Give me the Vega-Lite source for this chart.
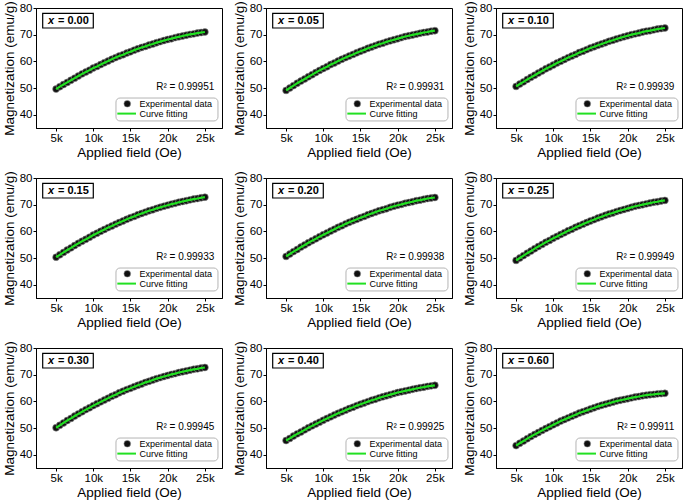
{
"$schema": "https://vega.github.io/schema/vega-lite/v6.json",
"background": "white",
"padding": {"left": 1, "top": 0, "right": 0, "bottom": 0},
"data": {"values": [
{"p":"0.00","H":5000,"M":49.6},{"p":"0.00","H":5500,"M":50.5},{"p":"0.00","H":6000,"M":51.3},{"p":"0.00","H":6500,"M":52.1},{"p":"0.00","H":7000,"M":52.9},{"p":"0.00","H":7500,"M":53.7},{"p":"0.00","H":8000,"M":54.5},{"p":"0.00","H":8500,"M":55.3},{"p":"0.00","H":9000,"M":56.0},{"p":"0.00","H":9500,"M":56.7},{"p":"0.00","H":10000,"M":57.5},{"p":"0.00","H":10500,"M":58.1},{"p":"0.00","H":11000,"M":58.8},{"p":"0.00","H":11500,"M":59.5},{"p":"0.00","H":12000,"M":60.1},{"p":"0.00","H":12500,"M":60.8},{"p":"0.00","H":13000,"M":61.4},{"p":"0.00","H":13500,"M":62.0},{"p":"0.00","H":14000,"M":62.5},{"p":"0.00","H":14500,"M":63.1},{"p":"0.00","H":15000,"M":63.6},{"p":"0.00","H":15500,"M":64.2},{"p":"0.00","H":16000,"M":64.7},{"p":"0.00","H":16500,"M":65.2},{"p":"0.00","H":17000,"M":65.6},{"p":"0.00","H":17500,"M":66.1},{"p":"0.00","H":18000,"M":66.5},{"p":"0.00","H":18500,"M":67.0},{"p":"0.00","H":19000,"M":67.4},{"p":"0.00","H":19500,"M":67.8},{"p":"0.00","H":20000,"M":68.2},{"p":"0.00","H":20500,"M":68.5},{"p":"0.00","H":21000,"M":68.9},{"p":"0.00","H":21500,"M":69.2},{"p":"0.00","H":22000,"M":69.5},{"p":"0.00","H":22500,"M":69.8},{"p":"0.00","H":23000,"M":70.1},{"p":"0.00","H":23500,"M":70.3},{"p":"0.00","H":24000,"M":70.6},{"p":"0.00","H":24500,"M":70.8},{"p":"0.00","H":25000,"M":71.0},
{"p":"0.05","H":5000,"M":49.1},{"p":"0.05","H":5500,"M":50.0},{"p":"0.05","H":6000,"M":50.9},{"p":"0.05","H":6500,"M":51.8},{"p":"0.05","H":7000,"M":52.6},{"p":"0.05","H":7500,"M":53.4},{"p":"0.05","H":8000,"M":54.2},{"p":"0.05","H":8500,"M":55.0},{"p":"0.05","H":9000,"M":55.8},{"p":"0.05","H":9500,"M":56.6},{"p":"0.05","H":10000,"M":57.3},{"p":"0.05","H":10500,"M":58.0},{"p":"0.05","H":11000,"M":58.8},{"p":"0.05","H":11500,"M":59.4},{"p":"0.05","H":12000,"M":60.1},{"p":"0.05","H":12500,"M":60.8},{"p":"0.05","H":13000,"M":61.4},{"p":"0.05","H":13500,"M":62.0},{"p":"0.05","H":14000,"M":62.6},{"p":"0.05","H":14500,"M":63.2},{"p":"0.05","H":15000,"M":63.8},{"p":"0.05","H":15500,"M":64.3},{"p":"0.05","H":16000,"M":64.9},{"p":"0.05","H":16500,"M":65.4},{"p":"0.05","H":17000,"M":65.9},{"p":"0.05","H":17500,"M":66.4},{"p":"0.05","H":18000,"M":66.8},{"p":"0.05","H":18500,"M":67.3},{"p":"0.05","H":19000,"M":67.7},{"p":"0.05","H":19500,"M":68.1},{"p":"0.05","H":20000,"M":68.5},{"p":"0.05","H":20500,"M":68.9},{"p":"0.05","H":21000,"M":69.3},{"p":"0.05","H":21500,"M":69.6},{"p":"0.05","H":22000,"M":69.9},{"p":"0.05","H":22500,"M":70.2},{"p":"0.05","H":23000,"M":70.5},{"p":"0.05","H":23500,"M":70.8},{"p":"0.05","H":24000,"M":71.0},{"p":"0.05","H":24500,"M":71.3},{"p":"0.05","H":25000,"M":71.5},
{"p":"0.10","H":5000,"M":50.6},{"p":"0.10","H":5500,"M":51.5},{"p":"0.10","H":6000,"M":52.3},{"p":"0.10","H":6500,"M":53.2},{"p":"0.10","H":7000,"M":54.0},{"p":"0.10","H":7500,"M":54.8},{"p":"0.10","H":8000,"M":55.6},{"p":"0.10","H":8500,"M":56.4},{"p":"0.10","H":9000,"M":57.2},{"p":"0.10","H":9500,"M":57.9},{"p":"0.10","H":10000,"M":58.6},{"p":"0.10","H":10500,"M":59.4},{"p":"0.10","H":11000,"M":60.0},{"p":"0.10","H":11500,"M":60.7},{"p":"0.10","H":12000,"M":61.4},{"p":"0.10","H":12500,"M":62.0},{"p":"0.10","H":13000,"M":62.6},{"p":"0.10","H":13500,"M":63.3},{"p":"0.10","H":14000,"M":63.8},{"p":"0.10","H":14500,"M":64.4},{"p":"0.10","H":15000,"M":65.0},{"p":"0.10","H":15500,"M":65.5},{"p":"0.10","H":16000,"M":66.0},{"p":"0.10","H":16500,"M":66.5},{"p":"0.10","H":17000,"M":67.0},{"p":"0.10","H":17500,"M":67.5},{"p":"0.10","H":18000,"M":67.9},{"p":"0.10","H":18500,"M":68.4},{"p":"0.10","H":19000,"M":68.8},{"p":"0.10","H":19500,"M":69.2},{"p":"0.10","H":20000,"M":69.6},{"p":"0.10","H":20500,"M":70.0},{"p":"0.10","H":21000,"M":70.3},{"p":"0.10","H":21500,"M":70.6},{"p":"0.10","H":22000,"M":71.0},{"p":"0.10","H":22500,"M":71.3},{"p":"0.10","H":23000,"M":71.5},{"p":"0.10","H":23500,"M":71.8},{"p":"0.10","H":24000,"M":72.1},{"p":"0.10","H":24500,"M":72.3},{"p":"0.10","H":25000,"M":72.5},
{"p":"0.15","H":5000,"M":50.3},{"p":"0.15","H":5500,"M":51.2},{"p":"0.15","H":6000,"M":52.1},{"p":"0.15","H":6500,"M":53.0},{"p":"0.15","H":7000,"M":53.8},{"p":"0.15","H":7500,"M":54.7},{"p":"0.15","H":8000,"M":55.5},{"p":"0.15","H":8500,"M":56.3},{"p":"0.15","H":9000,"M":57.0},{"p":"0.15","H":9500,"M":57.8},{"p":"0.15","H":10000,"M":58.6},{"p":"0.15","H":10500,"M":59.3},{"p":"0.15","H":11000,"M":60.0},{"p":"0.15","H":11500,"M":60.7},{"p":"0.15","H":12000,"M":61.4},{"p":"0.15","H":12500,"M":62.0},{"p":"0.15","H":13000,"M":62.7},{"p":"0.15","H":13500,"M":63.3},{"p":"0.15","H":14000,"M":63.9},{"p":"0.15","H":14500,"M":64.5},{"p":"0.15","H":15000,"M":65.1},{"p":"0.15","H":15500,"M":65.6},{"p":"0.15","H":16000,"M":66.2},{"p":"0.15","H":16500,"M":66.7},{"p":"0.15","H":17000,"M":67.2},{"p":"0.15","H":17500,"M":67.7},{"p":"0.15","H":18000,"M":68.1},{"p":"0.15","H":18500,"M":68.6},{"p":"0.15","H":19000,"M":69.0},{"p":"0.15","H":19500,"M":69.4},{"p":"0.15","H":20000,"M":69.8},{"p":"0.15","H":20500,"M":70.2},{"p":"0.15","H":21000,"M":70.5},{"p":"0.15","H":21500,"M":70.9},{"p":"0.15","H":22000,"M":71.2},{"p":"0.15","H":22500,"M":71.5},{"p":"0.15","H":23000,"M":71.8},{"p":"0.15","H":23500,"M":72.1},{"p":"0.15","H":24000,"M":72.3},{"p":"0.15","H":24500,"M":72.6},{"p":"0.15","H":25000,"M":72.8},
{"p":"0.20","H":5000,"M":50.6},{"p":"0.20","H":5500,"M":51.5},{"p":"0.20","H":6000,"M":52.4},{"p":"0.20","H":6500,"M":53.2},{"p":"0.20","H":7000,"M":54.1},{"p":"0.20","H":7500,"M":54.9},{"p":"0.20","H":8000,"M":55.7},{"p":"0.20","H":8500,"M":56.5},{"p":"0.20","H":9000,"M":57.2},{"p":"0.20","H":9500,"M":58.0},{"p":"0.20","H":10000,"M":58.7},{"p":"0.20","H":10500,"M":59.4},{"p":"0.20","H":11000,"M":60.1},{"p":"0.20","H":11500,"M":60.8},{"p":"0.20","H":12000,"M":61.5},{"p":"0.20","H":12500,"M":62.1},{"p":"0.20","H":13000,"M":62.8},{"p":"0.20","H":13500,"M":63.4},{"p":"0.20","H":14000,"M":64.0},{"p":"0.20","H":14500,"M":64.5},{"p":"0.20","H":15000,"M":65.1},{"p":"0.20","H":15500,"M":65.6},{"p":"0.20","H":16000,"M":66.2},{"p":"0.20","H":16500,"M":66.7},{"p":"0.20","H":17000,"M":67.2},{"p":"0.20","H":17500,"M":67.7},{"p":"0.20","H":18000,"M":68.1},{"p":"0.20","H":18500,"M":68.5},{"p":"0.20","H":19000,"M":69.0},{"p":"0.20","H":19500,"M":69.4},{"p":"0.20","H":20000,"M":69.8},{"p":"0.20","H":20500,"M":70.1},{"p":"0.20","H":21000,"M":70.5},{"p":"0.20","H":21500,"M":70.8},{"p":"0.20","H":22000,"M":71.1},{"p":"0.20","H":22500,"M":71.5},{"p":"0.20","H":23000,"M":71.7},{"p":"0.20","H":23500,"M":72.0},{"p":"0.20","H":24000,"M":72.3},{"p":"0.20","H":24500,"M":72.5},{"p":"0.20","H":25000,"M":72.7},
{"p":"0.25","H":5000,"M":49.1},{"p":"0.25","H":5500,"M":50.0},{"p":"0.25","H":6000,"M":50.9},{"p":"0.25","H":6500,"M":51.8},{"p":"0.25","H":7000,"M":52.6},{"p":"0.25","H":7500,"M":53.5},{"p":"0.25","H":8000,"M":54.3},{"p":"0.25","H":8500,"M":55.1},{"p":"0.25","H":9000,"M":55.9},{"p":"0.25","H":9500,"M":56.6},{"p":"0.25","H":10000,"M":57.4},{"p":"0.25","H":10500,"M":58.1},{"p":"0.25","H":11000,"M":58.8},{"p":"0.25","H":11500,"M":59.5},{"p":"0.25","H":12000,"M":60.2},{"p":"0.25","H":12500,"M":60.8},{"p":"0.25","H":13000,"M":61.5},{"p":"0.25","H":13500,"M":62.1},{"p":"0.25","H":14000,"M":62.7},{"p":"0.25","H":14500,"M":63.3},{"p":"0.25","H":15000,"M":63.9},{"p":"0.25","H":15500,"M":64.4},{"p":"0.25","H":16000,"M":65.0},{"p":"0.25","H":16500,"M":65.5},{"p":"0.25","H":17000,"M":66.0},{"p":"0.25","H":17500,"M":66.5},{"p":"0.25","H":18000,"M":66.9},{"p":"0.25","H":18500,"M":67.4},{"p":"0.25","H":19000,"M":67.8},{"p":"0.25","H":19500,"M":68.2},{"p":"0.25","H":20000,"M":68.6},{"p":"0.25","H":20500,"M":69.0},{"p":"0.25","H":21000,"M":69.4},{"p":"0.25","H":21500,"M":69.7},{"p":"0.25","H":22000,"M":70.0},{"p":"0.25","H":22500,"M":70.3},{"p":"0.25","H":23000,"M":70.6},{"p":"0.25","H":23500,"M":70.9},{"p":"0.25","H":24000,"M":71.1},{"p":"0.25","H":24500,"M":71.4},{"p":"0.25","H":25000,"M":71.6},
{"p":"0.30","H":5000,"M":50.1},{"p":"0.30","H":5500,"M":51.0},{"p":"0.30","H":6000,"M":51.9},{"p":"0.30","H":6500,"M":52.8},{"p":"0.30","H":7000,"M":53.6},{"p":"0.30","H":7500,"M":54.5},{"p":"0.30","H":8000,"M":55.3},{"p":"0.30","H":8500,"M":56.1},{"p":"0.30","H":9000,"M":56.9},{"p":"0.30","H":9500,"M":57.6},{"p":"0.30","H":10000,"M":58.4},{"p":"0.30","H":10500,"M":59.1},{"p":"0.30","H":11000,"M":59.8},{"p":"0.30","H":11500,"M":60.5},{"p":"0.30","H":12000,"M":61.2},{"p":"0.30","H":12500,"M":61.9},{"p":"0.30","H":13000,"M":62.5},{"p":"0.30","H":13500,"M":63.2},{"p":"0.30","H":14000,"M":63.8},{"p":"0.30","H":14500,"M":64.4},{"p":"0.30","H":15000,"M":64.9},{"p":"0.30","H":15500,"M":65.5},{"p":"0.30","H":16000,"M":66.0},{"p":"0.30","H":16500,"M":66.5},{"p":"0.30","H":17000,"M":67.1},{"p":"0.30","H":17500,"M":67.5},{"p":"0.30","H":18000,"M":68.0},{"p":"0.30","H":18500,"M":68.5},{"p":"0.30","H":19000,"M":68.9},{"p":"0.30","H":19500,"M":69.3},{"p":"0.30","H":20000,"M":69.7},{"p":"0.30","H":20500,"M":70.1},{"p":"0.30","H":21000,"M":70.4},{"p":"0.30","H":21500,"M":70.8},{"p":"0.30","H":22000,"M":71.1},{"p":"0.30","H":22500,"M":71.4},{"p":"0.30","H":23000,"M":71.7},{"p":"0.30","H":23500,"M":72.0},{"p":"0.30","H":24000,"M":72.2},{"p":"0.30","H":24500,"M":72.5},{"p":"0.30","H":25000,"M":72.7},
{"p":"0.40","H":5000,"M":45.3},{"p":"0.40","H":5500,"M":46.1},{"p":"0.40","H":6000,"M":47.0},{"p":"0.40","H":6500,"M":47.8},{"p":"0.40","H":7000,"M":48.5},{"p":"0.40","H":7500,"M":49.3},{"p":"0.40","H":8000,"M":50.1},{"p":"0.40","H":8500,"M":50.8},{"p":"0.40","H":9000,"M":51.5},{"p":"0.40","H":9500,"M":52.2},{"p":"0.40","H":10000,"M":52.9},{"p":"0.40","H":10500,"M":53.6},{"p":"0.40","H":11000,"M":54.2},{"p":"0.40","H":11500,"M":54.9},{"p":"0.40","H":12000,"M":55.5},{"p":"0.40","H":12500,"M":56.1},{"p":"0.40","H":13000,"M":56.7},{"p":"0.40","H":13500,"M":57.3},{"p":"0.40","H":14000,"M":57.8},{"p":"0.40","H":14500,"M":58.4},{"p":"0.40","H":15000,"M":58.9},{"p":"0.40","H":15500,"M":59.4},{"p":"0.40","H":16000,"M":59.9},{"p":"0.40","H":16500,"M":60.4},{"p":"0.40","H":17000,"M":60.8},{"p":"0.40","H":17500,"M":61.3},{"p":"0.40","H":18000,"M":61.7},{"p":"0.40","H":18500,"M":62.1},{"p":"0.40","H":19000,"M":62.5},{"p":"0.40","H":19500,"M":62.9},{"p":"0.40","H":20000,"M":63.3},{"p":"0.40","H":20500,"M":63.6},{"p":"0.40","H":21000,"M":63.9},{"p":"0.40","H":21500,"M":64.2},{"p":"0.40","H":22000,"M":64.5},{"p":"0.40","H":22500,"M":64.8},{"p":"0.40","H":23000,"M":65.1},{"p":"0.40","H":23500,"M":65.3},{"p":"0.40","H":24000,"M":65.6},{"p":"0.40","H":24500,"M":65.8},{"p":"0.40","H":25000,"M":66.0},
{"p":"0.60","H":5000,"M":43.4},{"p":"0.60","H":5500,"M":44.3},{"p":"0.60","H":6000,"M":45.1},{"p":"0.60","H":6500,"M":46.0},{"p":"0.60","H":7000,"M":46.8},{"p":"0.60","H":7500,"M":47.6},{"p":"0.60","H":8000,"M":48.3},{"p":"0.60","H":8500,"M":49.1},{"p":"0.60","H":9000,"M":49.8},{"p":"0.60","H":9500,"M":50.5},{"p":"0.60","H":10000,"M":51.2},{"p":"0.60","H":10500,"M":51.9},{"p":"0.60","H":11000,"M":52.6},{"p":"0.60","H":11500,"M":53.2},{"p":"0.60","H":12000,"M":53.8},{"p":"0.60","H":12500,"M":54.4},{"p":"0.60","H":13000,"M":55.0},{"p":"0.60","H":13500,"M":55.6},{"p":"0.60","H":14000,"M":56.1},{"p":"0.60","H":14500,"M":56.6},{"p":"0.60","H":15000,"M":57.1},{"p":"0.60","H":15500,"M":57.6},{"p":"0.60","H":16000,"M":58.1},{"p":"0.60","H":16500,"M":58.5},{"p":"0.60","H":17000,"M":58.9},{"p":"0.60","H":17500,"M":59.3},{"p":"0.60","H":18000,"M":59.7},{"p":"0.60","H":18500,"M":60.1},{"p":"0.60","H":19000,"M":60.4},{"p":"0.60","H":19500,"M":60.7},{"p":"0.60","H":20000,"M":61.0},{"p":"0.60","H":20500,"M":61.3},{"p":"0.60","H":21000,"M":61.6},{"p":"0.60","H":21500,"M":61.8},{"p":"0.60","H":22000,"M":62.1},{"p":"0.60","H":22500,"M":62.3},{"p":"0.60","H":23000,"M":62.5},{"p":"0.60","H":23500,"M":62.6},{"p":"0.60","H":24000,"M":62.8},{"p":"0.60","H":24500,"M":62.9},{"p":"0.60","H":25000,"M":63.0},
{"p":"0.00","r2":"R² = 0.99951"},{"p":"0.05","r2":"R² = 0.99931"},{"p":"0.10","r2":"R² = 0.99939"},{"p":"0.15","r2":"R² = 0.99933"},{"p":"0.20","r2":"R² = 0.99938"},{"p":"0.25","r2":"R² = 0.99949"},{"p":"0.30","r2":"R² = 0.99945"},{"p":"0.40","r2":"R² = 0.99925"},{"p":"0.60","r2":"R² = 0.99911"}
]},
"facet": {"field": "p", "type": "nominal", "title": null, "header": {"labels": false, "title": null, "labelExpr": "''", "labelFontSize": 0, "labelPadding": 0, "titlePadding": 0}, "sort": ["0.00","0.05","0.10","0.15","0.20","0.25","0.30","0.40","0.60"]},
"columns": 3,
"spacing": {"row": 50, "column": 44},
"bounds": "flush",
"resolve": {"axis": {"x": "independent", "y": "independent"}},
"spec": {
  "width": 186,
  "height": 120,
  "layer": [
    {
      "transform": [{"filter": "datum.H != null"}],
      "mark": {"type": "point", "filled": true, "fill": "#111111", "stroke": "#909090", "strokeWidth": 0.6, "size": 48, "opacity": 1},
      "encoding": {
        "x": {"field": "H", "type": "quantitative", "scale": {"domain": [2300, 27300], "nice": false, "zero": false}, "axis": {"title": "Applied field (Oe)", "values": [5000, 10000, 15000, 20000, 25000], "format": "~s"}},
        "y": {"field": "M", "type": "quantitative", "scale": {"domain": [35, 80], "nice": false, "zero": false}, "axis": {"title": "Magnetization (emu/g)", "values": [40, 50, 60, 70, 80]}}
      }
    },
    {
      "transform": [{"filter": "datum.H != null"}],
      "mark": {"type": "line", "color": "#22e022", "strokeWidth": 2.2},
      "encoding": {
        "x": {"field": "H", "type": "quantitative"},
        "y": {"field": "M", "type": "quantitative"}
      }
    },
    {
      "transform": [{"filter": "datum.r2 != null"}],
      "mark": {"type": "rect", "fill": "#9a9a9a", "xOffset": 2, "yOffset": 2},
      "encoding": {
        "x": {"datum": 3200, "type": "quantitative"}, "x2": {"datum": 10000},
        "y": {"datum": 78, "type": "quantitative"}, "y2": {"datum": 72.5}
      }
    },
    {
      "transform": [{"filter": "datum.r2 != null"}],
      "mark": {"type": "rect", "fill": "white", "stroke": "black", "strokeWidth": 1.2},
      "encoding": {
        "x": {"datum": 3200, "type": "quantitative"}, "x2": {"datum": 10000},
        "y": {"datum": 78, "type": "quantitative"}, "y2": {"datum": 72.5}
      }
    },
    {
      "transform": [{"filter": "datum.r2 != null"}],
      "mark": {"type": "text", "text": "x", "font": "Liberation Sans", "fontSize": 11, "fontWeight": "bold", "fontStyle": "italic", "align": "left", "baseline": "middle", "color": "black"},
      "encoding": {"x": {"datum": 3900, "type": "quantitative"}, "y": {"datum": 75.3, "type": "quantitative"}}
    },
    {
      "transform": [{"filter": "datum.r2 != null"}],
      "mark": {"type": "text", "text": "=", "font": "Liberation Sans", "fontSize": 11, "fontWeight": "bold", "align": "left", "baseline": "middle", "dx": 10, "color": "black"},
      "encoding": {"x": {"datum": 3900, "type": "quantitative"}, "y": {"datum": 75.3, "type": "quantitative"}}
    },
    {
      "transform": [{"filter": "datum.r2 != null"}],
      "mark": {"type": "text", "font": "Liberation Sans", "fontSize": 11, "fontWeight": "bold", "align": "left", "baseline": "middle", "dx": 19.5, "color": "black"},
      "encoding": {"x": {"datum": 3900, "type": "quantitative"}, "y": {"datum": 75.3, "type": "quantitative"}, "text": {"field": "p"}}
    },
    {
      "transform": [{"filter": "datum.r2 != null"}],
      "mark": {"type": "text", "font": "Liberation Sans", "fontSize": 10, "align": "right", "baseline": "middle", "color": "black"},
      "encoding": {"x": {"datum": 26265, "type": "quantitative"}, "y": {"datum": 50.35, "type": "quantitative"}, "text": {"field": "r2"}}
    },
    {
      "transform": [{"filter": "datum.r2 != null"}],
      "mark": {"type": "rect", "fill": "white", "stroke": "#b4b4b4", "strokeWidth": 1, "cornerRadius": 4},
      "encoding": {
        "x": {"datum": 13050, "type": "quantitative"}, "x2": {"datum": 26760},
        "y": {"datum": 46.24, "type": "quantitative"}, "y2": {"datum": 37.64}
      }
    },
    {
      "transform": [{"filter": "datum.r2 != null"}],
      "mark": {"type": "point", "filled": true, "fill": "#111111", "stroke": "#909090", "strokeWidth": 0.6, "size": 45, "opacity": 1},
      "encoding": {"x": {"datum": 14570, "type": "quantitative"}, "y": {"datum": 44.1, "type": "quantitative"}}
    },
    {
      "transform": [{"filter": "datum.r2 != null"}],
      "mark": {"type": "rule", "color": "#22e022", "strokeWidth": 2},
      "encoding": {"x": {"datum": 13230, "type": "quantitative"}, "x2": {"datum": 15740}, "y": {"datum": 40.4, "type": "quantitative"}}
    },
    {
      "transform": [{"filter": "datum.r2 != null"}],
      "mark": {"type": "text", "text": "Experimental data", "font": "Liberation Sans", "fontSize": 9, "align": "left", "baseline": "middle", "color": "black"},
      "encoding": {"x": {"datum": 16200, "type": "quantitative"}, "y": {"datum": 44.1, "type": "quantitative"}}
    },
    {
      "transform": [{"filter": "datum.r2 != null"}],
      "mark": {"type": "text", "text": "Curve fitting", "font": "Liberation Sans", "fontSize": 9, "align": "left", "baseline": "middle", "color": "black"},
      "encoding": {"x": {"datum": 16200, "type": "quantitative"}, "y": {"datum": 40.4, "type": "quantitative"}}
    }
  ]
},
"config": {
  "view": {"stroke": "black", "strokeWidth": 1},
  "font": "Liberation Sans",
  "header": {"labels": false, "title": null},
  "headerFacet": {"labels": false, "title": null},
  "axis": {"domainColor": "black", "tickColor": "black", "labelColor": "black", "titleColor": "black", "labelFont": "Liberation Sans", "titleFont": "Liberation Sans", "labelFontSize": 11.5, "titleFontSize": 13.5, "titleFontWeight": "normal", "tickSize": 3, "labelPadding": 1, "grid": false, "labelOverlap": false},
  "axisX": {"titlePadding": 2, "tickCount": 5, "format": "~s"},
  "axisY": {"titlePadding": 3, "tickCount": 5}
}
}
